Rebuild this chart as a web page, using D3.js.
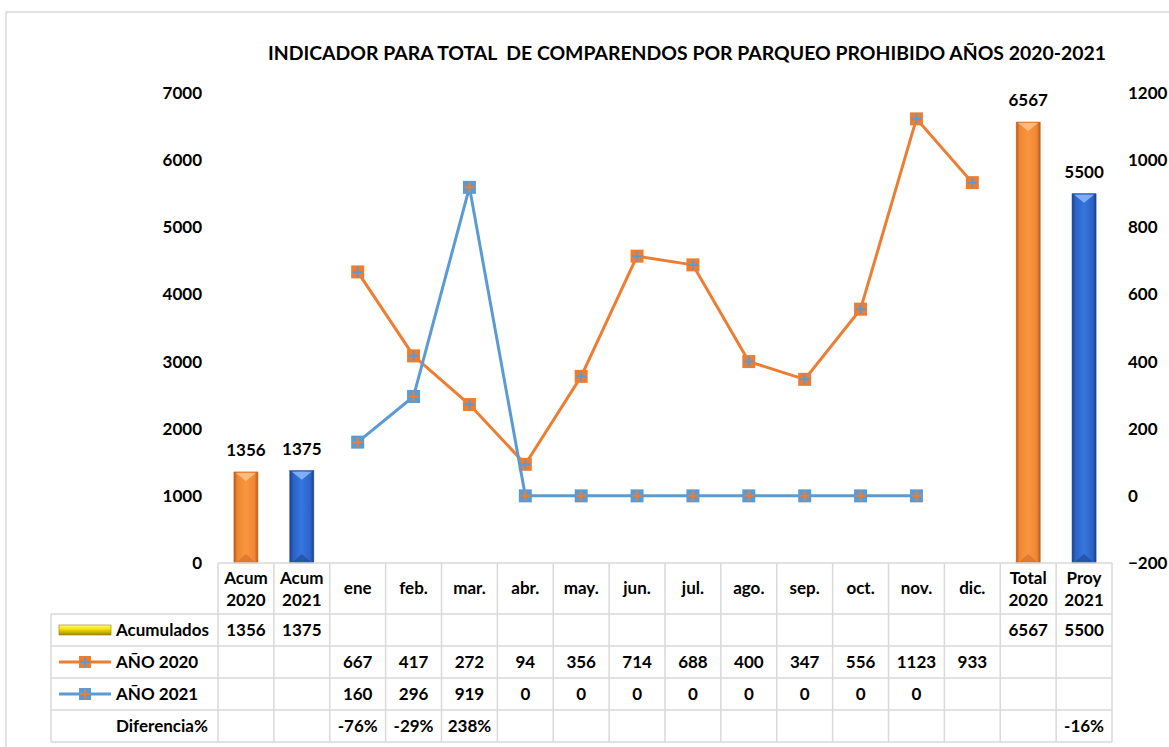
<!DOCTYPE html>
<html><head><meta charset="utf-8">
<script src="https://cdn.jsdelivr.net/npm/d3@7"></script>
<style>body{margin:0;background:#fff}svg{display:block}text{font-family:Lato,"Open Sans",sans-serif;font-weight:bold;fill:#000}</style>
</head><body><svg id="c" width="1169" height="747"></svg>
<script>
const title = "INDICADOR PARA TOTAL  DE COMPARENDOS POR PARQUEO PROHIBIDO AÑOS 2020-2021";
const categories = ["Acum\n2020","Acum\n2021","ene","feb.","mar.","abr.","may.","jun.","jul.","ago.","sep.","oct.","nov.","dic.","Total\n2020","Proy\n2021"];
const accumCats = ["Acum\n2020","Acum\n2021","Total\n2020","Proy\n2021"];
const accumValues = [1356,1375,6567,5500];
const months = ["ene","feb.","mar.","abr.","may.","jun.","jul.","ago.","sep.","oct.","nov.","dic."];
const year2020 = [667,417,272,94,356,714,688,400,347,556,1123,933];
const year2021 = [160,296,919,0,0,0,0,0,0,0,0];
const diffCats = ["ene","feb.","mar.","Proy\n2021"];
const diffLabels = ["-76%","-29%","238%","-16%"];
const leftTicks = [0,1000,2000,3000,4000,5000,6000,7000];
const rightTicks = [-200,0,200,400,600,800,1000,1200];

const svg = d3.select("#c");
const ORANGE="#ED7D31", BLUE="#5B9BD5", GRID="#d9d9d9";
const FS = "17px";
const x = d3.scaleBand().domain(categories).range([218,1112]).padding(0);
const yL = d3.scaleLinear().domain([0,7000]).range([563,93]);
const yR = d3.scaleLinear().domain([-200,1200]).range([563,93]);

// outer border
svg.append("rect").attr("x",6).attr("y",12).attr("width",1175).attr("height",760).attr("fill","none").attr("stroke","#d9d9d9").attr("stroke-width",1.5);

// title
svg.append("text").attr("x",687).attr("y",60).attr("text-anchor","middle").attr("xml:space","preserve").style("white-space","pre").style("font-size","18.5px")
  .attr("textLength",838).attr("lengthAdjust","spacingAndGlyphs").text(title);

// gradients
const defs = svg.append("defs");
function hgrad(id, stops){
  const g = defs.append("linearGradient").attr("id",id).attr("x1","0").attr("x2","1").attr("y1","0").attr("y2","0");
  stops.forEach(s=>g.append("stop").attr("offset",s[0]).attr("stop-color",s[1]));
}
hgrad("gO",[[0,"#b85a1c"],[0.14,"#f08633"],[0.5,"#f9953f"],[0.86,"#f08633"],[1,"#b85a1c"]]);
hgrad("gB",[[0,"#1c3f86"],[0.14,"#2c62c6"],[0.5,"#3577de"],[0.86,"#2c62c6"],[1,"#1c3f86"]]);
const vg = defs.append("linearGradient").attr("id","gY2").attr("x1","0").attr("x2","0").attr("y1","0").attr("y2","1");
vg.append("stop").attr("offset",0).attr("stop-color","#fff7a0");
vg.append("stop").attr("offset",0.4).attr("stop-color","#f5e400");
vg.append("stop").attr("offset",1).attr("stop-color","#a88400");

// axes
const axL = svg.append("g").attr("transform","translate(202,0)").call(d3.axisLeft(yL).tickValues(leftTicks).tickSize(0).tickPadding(0).tickFormat(d3.format("d")));
const axR = svg.append("g").attr("transform","translate(1128,0)").call(d3.axisRight(yR).tickValues(rightTicks).tickSize(0).tickPadding(0).tickFormat(d3.format("d")));
[axL,axR].forEach(a=>{a.select(".domain").remove();a.selectAll("text").style("font-size",FS).style("font-family","Lato,sans-serif").style("font-weight","bold").attr("fill","#000");});

// bars
const bw = 24;
const bars = svg.append("g");
accumCats.forEach((c,i)=>{
  const cx = x(c)+x.bandwidth()/2, top = yL(accumValues[i]), bot = yL(0);
  const is20 = c.includes("2020");
  bars.append("rect").attr("x",cx-bw/2).attr("y",top).attr("width",bw).attr("height",bot-top).attr("fill",is20?"url(#gO)":"url(#gB)").attr("stroke",is20?"#c4661f":"#1f4a96").attr("stroke-width",0.6);
  bars.append("path").attr("d",`M${cx-bw/2+2},${top+1}L${cx+bw/2-2},${top+1}L${cx},${top+9}Z`).attr("fill",is20?"#ffc288":"#8cb8ff").attr("opacity",0.85);
  bars.append("path").attr("d",`M${cx-bw/2+2},${bot}L${cx+bw/2-2},${bot}L${cx},${bot-9}Z`).attr("fill",is20?"#d8702a":"#1f4a96").attr("opacity",0.7);
  svg.append("text").attr("x",cx).attr("y",top-16).attr("text-anchor","middle").style("font-size",FS).text(accumValues[i]);
});

// lines
function series(vals, color, mColor, pColor){
  const pts = vals.map((v,i)=>[x(months[i])+x.bandwidth()/2, yR(v)]);
  svg.append("path").attr("d",d3.line()(pts)).attr("fill","none").attr("stroke",color).attr("stroke-width",3).attr("stroke-linejoin","round");
  const g = svg.append("g");
  pts.forEach(p=>{
    g.append("rect").attr("x",p[0]-6.5).attr("y",p[1]-6.5).attr("width",13).attr("height",13).attr("fill",mColor);
    g.append("path").attr("d",`M${p[0]-5},${p[1]}H${p[0]+5}M${p[0]},${p[1]-5}V${p[1]+5}`).attr("stroke",pColor).attr("stroke-width",2);
  });
}
series(year2020, ORANGE, ORANGE, BLUE);
series(year2021, BLUE, BLUE, ORANGE);

// table
const rowsY = [563,614,646,678,710,742];
const tg = svg.append("g").attr("stroke",GRID).attr("stroke-width",1.5);
tg.append("line").attr("x1",218).attr("x2",1112).attr("y1",563).attr("y2",563);
for(let r=1;r<rowsY.length;r++) tg.append("line").attr("x1",51).attr("x2",1112).attr("y1",rowsY[r]).attr("y2",rowsY[r]);
tg.append("line").attr("x1",51).attr("x2",51).attr("y1",614).attr("y2",742);
categories.forEach(c=>tg.append("line").attr("x1",x(c)).attr("x2",x(c)).attr("y1",563).attr("y2",742));
tg.append("line").attr("x1",1112).attr("x2",1112).attr("y1",563).attr("y2",742);

const tt = svg.append("g").style("font-size",FS);
categories.forEach(c=>{
  const cx = x(c)+x.bandwidth()/2;
  const lines = c.split("\n");
  if(lines.length===1) tt.append("text").attr("x",cx).attr("y",594).attr("text-anchor","middle").text(lines[0]);
  else lines.forEach((l,k)=>tt.append("text").attr("x",cx).attr("y",584+k*22).attr("text-anchor","middle").text(l));
});
const rowMid = r => (rowsY[r]+rowsY[r+1])/2 + 6;
accumCats.forEach((c,i)=>tt.append("text").attr("x",x(c)+x.bandwidth()/2).attr("y",rowMid(1)).attr("text-anchor","middle").text(accumValues[i]));
months.forEach((m,i)=>tt.append("text").attr("x",x(m)+x.bandwidth()/2).attr("y",rowMid(2)).attr("text-anchor","middle").text(year2020[i]));
year2021.forEach((v,i)=>tt.append("text").attr("x",x(months[i])+x.bandwidth()/2).attr("y",rowMid(3)).attr("text-anchor","middle").text(v));
diffCats.forEach((c,i)=>tt.append("text").attr("x",x(c)+x.bandwidth()/2).attr("y",rowMid(4)).attr("text-anchor","middle").text(diffLabels[i]));

// legend keys
const lk = svg.append("g");
lk.append("rect").attr("x",59).attr("y",625).attr("width",52).attr("height",10).attr("fill","url(#gY2)").attr("stroke","#9a7a00").attr("stroke-width",0.6);
function lineKey(y,color,mColor,pColor){
  lk.append("line").attr("x1",59).attr("x2",111).attr("y1",y).attr("y2",y).attr("stroke",color).attr("stroke-width",3);
  lk.append("rect").attr("x",79).attr("y",y-6).attr("width",12).attr("height",12).attr("fill",mColor);
  lk.append("path").attr("d",`M${80},${y}H${90}M${85},${y-5}V${y+5}`).attr("stroke",pColor).attr("stroke-width",2);
}
lineKey(662,ORANGE,ORANGE,BLUE);
lineKey(694,BLUE,BLUE,ORANGE);
["Acumulados","AÑO 2020","AÑO 2021","Diferencia%"].forEach((t,r)=>tt.append("text").attr("x",116).attr("y",rowMid(r+1)).text(t));
</script></body></html>
